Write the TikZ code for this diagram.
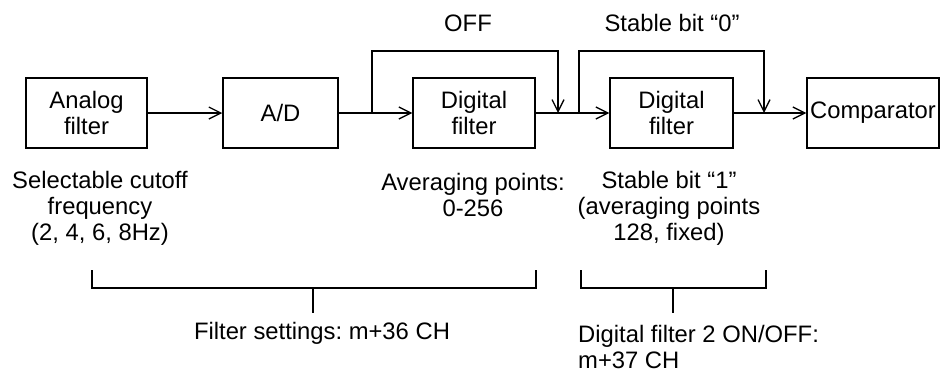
\documentclass[tikz,border=0pt]{standalone}
\usepackage{fontspec}
\setmainfont{Liberation Sans}
\frenchspacing
\usetikzlibrary{arrows.meta, positioning, calc}
\tikzset{
  block/.style={draw, line width=1.5pt, minimum height=70pt, inner sep=0pt, align=center,
                font=\fontsize{23.8}{26}\selectfont},
  note/.style={align=center, inner sep=0pt, font=\fontsize{23.8}{26}\selectfont},
  arrow/.style={-{Straight Barb[length=12pt, width=12pt, line width=1.3pt]}, line width=1.5pt},
  brace/.style={line width=1.5pt},
}
\begin{document}
\begin{tikzpicture}[x=1pt, y=-1pt]
\useasboundingbox (0,0) rectangle (944,372);
% blocks
\node[block, minimum width=121pt] (analog) at (86.5,113) {Analog\\filter};
\node[block, minimum width=115pt] (ad)     at (280.5,113) {A/D};
\node[block, minimum width=122pt] (dig1)   at (474,113) {Digital\\filter};
\node[block, minimum width=123pt] (dig2)   at (671.5,113) {Digital\\filter};
\node[block, minimum width=132pt] (comp)   at (873,113) {Comparator};
% split and join points
\coordinate (split1) at (372,113);
\coordinate (join1)  at (558,113);
\coordinate (split2) at (579,113);
\coordinate (join2)  at (764,113);
% main signal path
\draw[arrow] (analog) -- (ad);
\draw[arrow] (ad) -- (dig1);
\draw[arrow] (dig1) -- (dig2);
\draw[arrow] (dig2) -- (comp);
% bypass lines
\draw[arrow] (split1) -- ++(0,-62) -| (join1);
\draw[arrow] (split2) -- ++(0,-62) -| (join2);
\node[note] (off)  at (468,23) {OFF};
\node[note] (stb0) at (672,23) {Stable bit “0”};
% notes under the blocks
\node[note] (cutoff) at (100,208) {Selectable cutoff\\frequency\\(2, 4, 6, 8Hz)};
\node[note] (avg)    at (473,195) {Averaging points:\\0-256};
\node[note] (stb1)   at (669,208) {Stable bit “1”\\(averaging points\\128, fixed)};
% brackets
\draw[brace] (92,270) |- (536,288) -- (536,270);
\draw[brace] (313,288) -- (313,313);
\node[note] (fset) at (322,333) {Filter settings: m+36 CH};
\draw[brace] (581,270) |- (766,288) -- (766,270);
\draw[brace] (673,288) -- (673,313);
\node[note, align=left, anchor=west] (dfon) at (578,346.5) {Digital filter 2 ON/OFF:\\m+37 CH};
\end{tikzpicture}
\end{document}
